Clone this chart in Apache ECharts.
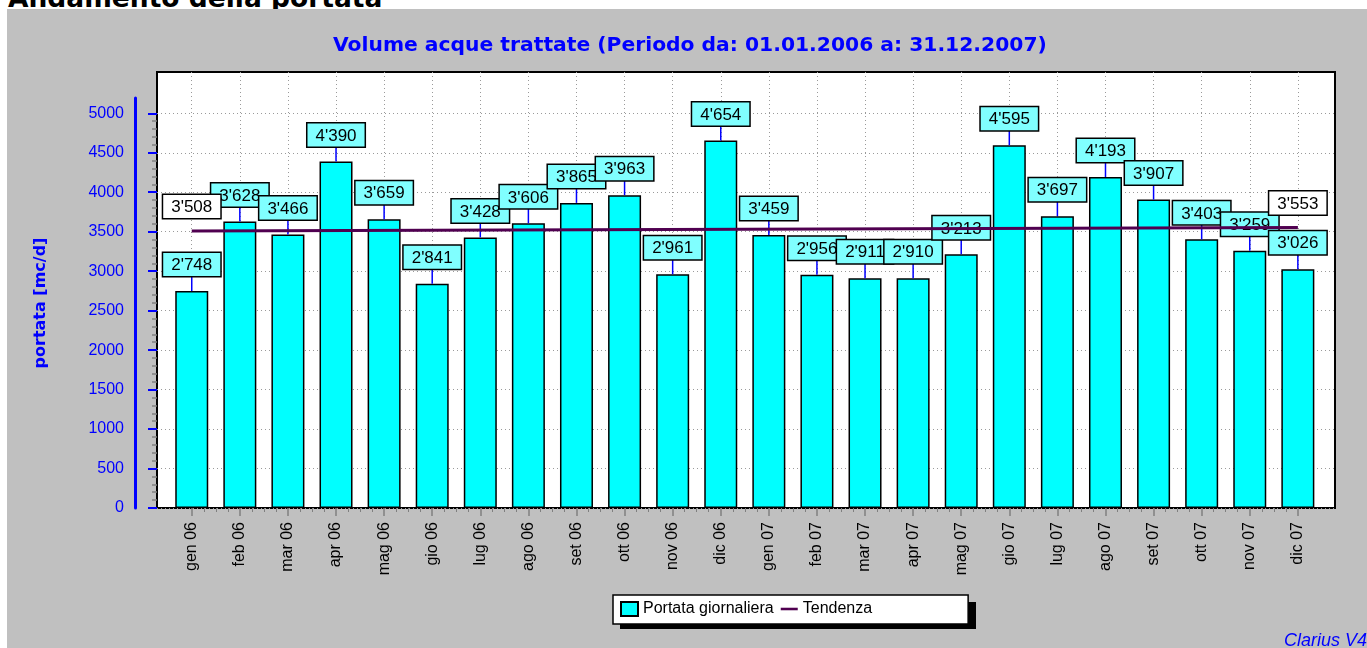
<!DOCTYPE html>
<html><head><meta charset="utf-8">
<script src="https://cdn.jsdelivr.net/npm/echarts@6/dist/echarts.min.js"></script>
<style>
html,body{margin:0;padding:0;background:#fff;width:1367px;height:648px;overflow:hidden}
#heading{position:absolute;left:8px;top:-15px;font:bold 26.5px "DejaVu Sans",sans-serif;line-height:26px;color:#000;z-index:0;white-space:nowrap}
#panel{position:absolute;left:7px;top:9px;width:1360px;height:639px;background:#c0c0c0;z-index:1}
#chart{position:absolute;left:0;top:0;width:1367px;height:648px;z-index:2}
</style></head><body>
<div id="heading">Andamento della portata</div>
<div id="panel"></div>
<div id="chart"></div>
<script>
// ---- data ----
const CATEGORIES = ['gen 06','feb 06','mar 06','apr 06','mag 06','gio 06','lug 06','ago 06','set 06','ott 06','nov 06','dic 06',
                    'gen 07','feb 07','mar 07','apr 07','mag 07','gio 07','lug 07','ago 07','set 07','ott 07','nov 07','dic 07'];
const PORTATA = [2748,3628,3466,4390,3659,2841,3428,3606,3865,3963,2961,4654,
                 3459,2956,2911,2910,3213,4595,3697,4193,3907,3403,3259,3026];
const TREND_CATS = ['gen 06','dic 07'];
const TREND = [3508,3553];
const Y_MIN = 0, Y_TICK_MAX = 5000, Y_INTERVAL = 500;
const TITLE = 'Volume acque trattate (Periodo da: 01.01.2006 a: 31.12.2007)';
const Y_NAME = 'portata [mc/d]';
const SERIES_BAR = 'Portata giornaliera', SERIES_TREND = 'Tendenza';

// ---- layout ----
const PLOT_L = 157, PLOT_R = 1335, PLOT_T = 72, PLOT_B = 508;
const BAND_L = 167.7, BAND_R = 1321.9;
const PLOT_H = PLOT_B - PLOT_T;
const Y_PX_5000 = 394.7;                       // pixel height of 0..5000
const YMAX = Y_TICK_MAX * PLOT_H / Y_PX_5000;   // value at top of plot
const bandW = (BAND_R - BAND_L) / CATEGORIES.length;
const C_L = BAND_L + bandW / 2, C_R = BAND_R - bandW / 2;
const AXIS_X = 135;
const LEG_X = 613, LEG_Y = 595, LEG_W = 356, LEG_H = 27, SHADOW = 7;

const fmt = v => { const s = String(Math.round(v)); return s.length > 3 ? s.slice(0, -3) + "'" + s.slice(-3) : s; };
const SANS = '"Liberation Sans", Arial, sans-serif';
const BOLD = '"DejaVu Sans", sans-serif';
const dotted = { color: '#9a9a9a', width: 1, type: [1, 3] };

const chart = echarts.init(document.getElementById('chart'), null, { renderer: 'canvas' });
const g = (o) => Object.assign({ outerBoundsMode: 'none', containLabel: false }, o);

chart.setOption({
  animation: false,
  backgroundColor: 'transparent',
  title: {
    text: TITLE, left: 333, top: 36, padding: 0,
    textStyle: { color: '#0000ff', fontFamily: BOLD, fontWeight: 'bold', fontSize: 20.3 }
  },
  legend: {
    left: LEG_X, top: LEG_Y, orient: 'horizontal', z: 10,
    padding: [6, 96, 7, 7], itemGap: 7, itemWidth: 17, itemHeight: 14,
    backgroundColor: '#ffffff', borderColor: '#000000', borderWidth: 1.5,
    textStyle: { fontFamily: SANS, fontSize: 16, color: '#000' },
    data: [{ name: SERIES_BAR, icon: 'rect' },
           { name: SERIES_TREND, icon: 'path://M0,0H20V3H0Z', itemStyle: { color: '#500050', borderWidth: 0 } }]
  },
  graphic: [
    { type: 'rect', z: 1, silent: true,
      shape: { x: LEG_X + SHADOW, y: LEG_Y + SHADOW, width: LEG_W, height: LEG_H },
      style: { fill: '#000000' } },
    { type: 'text', left: 1284, top: 632, silent: true,
      style: { text: 'Clarius V4', font: 'italic 18px ' + SANS, fill: '#0000ff' } }
  ],
  grid: [
    g({ left: PLOT_L, top: PLOT_T, width: PLOT_R - PLOT_L, height: PLOT_H, show: true, backgroundColor: '#ffffff', borderColor: '#000000', borderWidth: 2, z: 0 }),
    g({ left: BAND_L, top: PLOT_T, width: BAND_R - BAND_L, height: PLOT_H }),
    g({ left: C_L, top: PLOT_T, width: C_R - C_L, height: PLOT_H }),
    g({ left: AXIS_X, top: 98, width: 1, height: PLOT_B - 98 }),
    g({ left: PLOT_L, top: PLOT_B - Y_PX_5000, width: PLOT_R - PLOT_L, height: Y_PX_5000 })
  ],
  xAxis: [
    { gridIndex: 0, type: 'value', show: false },
    { gridIndex: 1, type: 'category', data: CATEGORIES, boundaryGap: true,
      axisLine: { show: false }, axisTick: { show: false }, splitLine: { show: false },
      axisLabel: { rotate: 90, margin: 14, fontFamily: SANS, fontSize: 16, color: '#000', interval: 0 } },
    { gridIndex: 2, type: 'value', min: 0, max: CATEGORIES.length - 1, interval: 1,
      axisLine: { show: false }, axisLabel: { show: false },
      axisTick: { show: true, length: 8, lineStyle: { color: '#808080', width: 1.5 } },
      minorTick: { show: true, splitNumber: 4, length: 4, lineStyle: { color: '#808080', width: 1 } },
      splitLine: { show: true, lineStyle: dotted } },
    { gridIndex: 3, type: 'value', show: false },
    { gridIndex: 4, type: 'value', show: false }
  ],
  yAxis: [
    { gridIndex: 0, type: 'value', show: false },
    { gridIndex: 1, type: 'value', min: Y_MIN, max: YMAX, show: false },
    { gridIndex: 2, type: 'value', min: Y_MIN, max: YMAX, show: false },
    { gridIndex: 3, type: 'value', min: 0, max: 1,
      axisLine: { show: true, lineStyle: { color: '#0000ff', width: 3 } },
      axisTick: { show: false }, axisLabel: { show: false }, splitLine: { show: false },
      name: Y_NAME, nameLocation: 'middle', nameGap: 86,
      nameTextStyle: { color: '#0000ff', fontFamily: BOLD, fontWeight: 'bold', fontSize: 16 } },
    { gridIndex: 4, type: 'value', min: Y_MIN, max: Y_TICK_MAX, interval: Y_INTERVAL, offset: PLOT_L - AXIS_X,
      axisLine: { show: false },
      axisTick: { show: true, length: 9, lineStyle: { color: '#0000ff', width: 2 } },
      minorTick: { show: true, splitNumber: 5, length: 5, lineStyle: { color: '#808080', width: 1.5 } },
      axisLabel: { color: '#0000ff', fontFamily: SANS, fontSize: 16, margin: 11, formatter: v => String(v) },
      splitLine: { show: true, lineStyle: dotted } }
  ],
  series: [
    { name: SERIES_BAR, type: 'bar', xAxisIndex: 1, yAxisIndex: 1, z: 2,
      data: PORTATA, barWidth: 33,
      itemStyle: { color: '#00ffff', borderColor: '#000000', borderWidth: 1.5 } },
    { name: 'bar-labels', type: 'custom', xAxisIndex: 1, yAxisIndex: 1, z: 3, silent: true,
      data: PORTATA.map((v, i) => [i, v]),
      renderItem: (params, api) => {
        const v = api.value(1);
        const p = api.coord([api.value(0), v]);
        return { type: 'group', children: [
          { type: 'line', shape: { x1: p[0], y1: p[1], x2: p[0], y2: p[1] - 16 },
            style: { stroke: '#0000ff', lineWidth: 1.5 } },
          { type: 'text', x: p[0], y: p[1] - 15,
            style: { text: fmt(v), align: 'center', verticalAlign: 'bottom', font: '17px ' + SANS, fill: '#000',
                     backgroundColor: '#80ffff', borderColor: '#000', borderWidth: 1.5, padding: [4, 8, 2, 8] } }
        ] };
      } },
    { name: SERIES_TREND, type: 'line', xAxisIndex: 1, yAxisIndex: 1, z: 4,
      data: TREND_CATS.map((c, i) => [c, TREND[i]]), symbol: 'none',
      lineStyle: { color: '#500050', width: 3 }, itemStyle: { color: '#500050' } },
    { name: 'trend-labels', type: 'custom', xAxisIndex: 1, yAxisIndex: 1, z: 5, silent: true,
      data: TREND_CATS.map((c, i) => [CATEGORIES.indexOf(c), TREND[i]]),
      renderItem: (params, api) => {
        const v = api.value(1);
        const p = api.coord([api.value(0), v]);
        return { type: 'text', x: p[0], y: p[1] - 13,
          style: { text: fmt(v), align: 'center', verticalAlign: 'bottom', font: '17px ' + SANS, fill: '#000',
                   backgroundColor: '#ffffff', borderColor: '#000', borderWidth: 1.5, padding: [4, 8, 2, 8] } };
      } }
  ]
});
</script>
</body></html>
